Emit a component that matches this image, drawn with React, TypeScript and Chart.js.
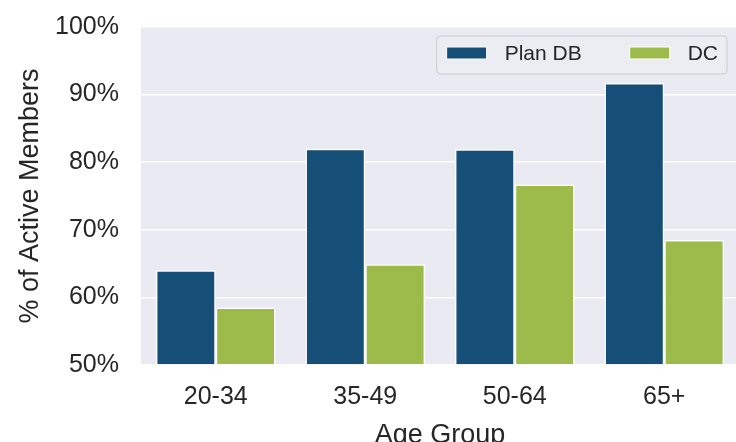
import React, { useEffect, useRef } from "react";
import { Chart, registerables } from "chart.js";

Chart.register(...registerables);

const categories = ["20-34", "35-49", "50-64", "65+"];
const planDB = [64.0, 82.0, 81.9, 91.7];
const dc = [58.5, 64.9, 76.7, 68.5];
const seriesLabels = ["Plan DB", "DC"];
const seriesColors = ["#154f77", "#9dbb4a"];
const yMin = 50;
const yMax = 100;
const yStep = 10;
const xTitle = "Age Group";
const yTitle = "% of Active Members";

const FONT = "'Liberation Sans', Arial, Helvetica, sans-serif";
const TEXT = "#262626";

const decorPlugin = {
  id: "decor",
  beforeDraw(chart: any) {
    const { ctx, chartArea: a } = chart;
    ctx.save();
    ctx.fillStyle = "#EAEAF2";
    ctx.fillRect(a.left, a.top, a.right - a.left, a.bottom - a.top);
    ctx.restore();
  },
  afterDatasetsDraw(chart: any) {
    const { ctx, chartArea: a } = chart;
    const ds = chart.data.datasets;
    ctx.save();
    ctx.font = `21px ${FONT}`;
    const swW = 40, swH = 12, gapText = 18, gapItem = 48, padL = 10, padR = 9;
    let total = padL;
    ds.forEach((d: any, i: number) => {
      total += swW + gapText + ctx.measureText(d.label).width;
      if (i < ds.length - 1) total += gapItem;
    });
    total += padR;
    const boxRight = a.right - 12;
    const boxLeft = boxRight - total;
    const boxTop = a.top + 9;
    const boxH = 38;
    const r = 4;
    ctx.beginPath();
    ctx.moveTo(boxLeft + r, boxTop);
    ctx.arcTo(boxRight, boxTop, boxRight, boxTop + boxH, r);
    ctx.arcTo(boxRight, boxTop + boxH, boxLeft, boxTop + boxH, r);
    ctx.arcTo(boxLeft, boxTop + boxH, boxLeft, boxTop, r);
    ctx.arcTo(boxLeft, boxTop, boxRight, boxTop, r);
    ctx.closePath();
    ctx.fillStyle = "rgba(236,236,243,0.9)";
    ctx.fill();
    ctx.strokeStyle = "#cccccc";
    ctx.lineWidth = 1;
    ctx.stroke();
    let x = boxLeft + padL;
    const cy = boxTop + 17;
    ds.forEach((d: any) => {
      ctx.fillStyle = d.backgroundColor;
      ctx.fillRect(x, cy - swH / 2, swW, swH);
      ctx.strokeStyle = "#ffffff";
      ctx.lineWidth = 1;
      ctx.strokeRect(x, cy - swH / 2, swW, swH);
      ctx.fillStyle = TEXT;
      ctx.textBaseline = "middle";
      ctx.textAlign = "left";
      ctx.fillText(d.label, x + swW + gapText, cy + 1);
      x += swW + gapText + ctx.measureText(d.label).width + gapItem;
    });
    ctx.restore();
  },
};

export default function App() {
  const ref = useRef<HTMLCanvasElement>(null);
  useEffect(() => {
    document.body.style.margin = "0";
    document.body.style.overflow = "hidden";
    if (!ref.current) return;
    const chart = new Chart(ref.current, {
      type: "bar",
      data: {
        labels: categories,
        datasets: [
          {
            label: seriesLabels[0],
            data: planDB,
            backgroundColor: seriesColors[0],
            borderColor: "#ffffff",
            borderWidth: 1.5,
            base: yMin,
          } as any,
          {
            label: seriesLabels[1],
            data: dc,
            backgroundColor: seriesColors[1],
            borderColor: "#ffffff",
            borderWidth: 1.5,
            base: yMin,
          } as any,
        ],
      },
      options: {
        animation: false,
        responsive: false,
        maintainAspectRatio: false,
        layout: { padding: { top: 27, left: 0, right: 1, bottom: 0 } },
        plugins: {
          legend: { display: false },
          tooltip: { enabled: false },
        },
        datasets: { bar: { categoryPercentage: 0.8, barPercentage: 1.0 } },
        scales: {
          x: {
            grid: { display: false, drawTicks: false },
            border: { display: false },
            ticks: {
              color: TEXT,
              font: { family: FONT, size: 25 },
              padding: 17,
            },
            title: {
              display: true,
              text: xTitle,
              color: TEXT,
              font: { family: FONT, size: 27 },
              padding: { top: 0, bottom: 3 },
            },
            afterFit: (s: any) => {
              s.height = 90;
              s.paddingLeft = 0;
              s.paddingRight = 0;
            },
          },
          y: {
            min: yMin,
            max: yMax,
            grid: { color: "#ffffff", lineWidth: 1.5, drawTicks: false },
            border: { display: false },
            ticks: {
              stepSize: yStep,
              color: TEXT,
              font: { family: FONT, size: 25 },
              padding: 22,
              callback: (v: any) => `${v}%`,
            },
            title: {
              display: true,
              text: yTitle,
              color: TEXT,
              font: { family: FONT, size: 27 },
              padding: { top: 14, bottom: 0 },
            },
            afterFit: (s: any) => {
              s.width = 141;
              s.paddingTop = 0;
              s.paddingBottom = 0;
            },
          },
        },
      },
      plugins: [decorPlugin],
    });
    return () => chart.destroy();
  }, []);
  return (
    <div
      style={{
        position: "fixed",
        left: 0,
        top: 0,
        width: 736,
        height: 442,
        overflow: "hidden",
        background: "#fff",
      }}
    >
      <canvas ref={ref} width={740} height={455} style={{ display: "block" }} />
    </div>
  );
}
